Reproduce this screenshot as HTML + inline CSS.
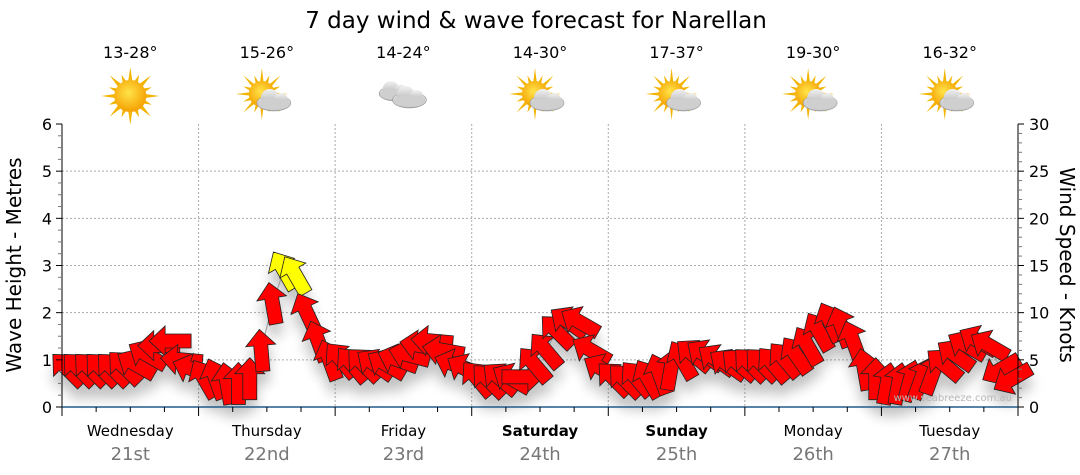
<!DOCTYPE html>
<html><head><meta charset="utf-8"><style>
html,body{margin:0;padding:0;background:#fff;}
svg{display:block;font-family:"DejaVu Sans","Liberation Sans",sans-serif;}
</style></head><body>
<svg id="chart" width="1080" height="475" viewBox="0 0 1080 475" xmlns="http://www.w3.org/2000/svg">
<defs>
<radialGradient id="sunG" cx="45%" cy="40%" r="60%"><stop offset="0" stop-color="#ffe44a"/><stop offset="1" stop-color="#f5a000"/></radialGradient>
<linearGradient id="cloudG" x1="0" y1="0" x2="0" y2="1"><stop offset="0" stop-color="#f2f2f2"/><stop offset="1" stop-color="#a9a9a9"/></linearGradient>
<filter id="shadow" x="-20%" y="-20%" width="140%" height="160%"><feGaussianBlur stdDeviation="6"/></filter>
</defs>
<text x="536" y="28" text-anchor="middle" font-size="23" fill="#000">7 day wind &amp; wave forecast for Narellan</text>
<g id="grid"></g>
<g id="shadowLayer" opacity="0.35" filter="url(#shadow)"></g>
<g id="marks"></g>
<g id="axes"></g>
<g id="days"></g>
<text x="1012" y="401" text-anchor="end" font-size="10" fill="#b8b8b8">www.seabreeze.com.au</text>
<text transform="translate(21,265) rotate(-90)" text-anchor="middle" font-size="20" fill="#000">Wave Height - Metres</text>
<text transform="translate(1060,265) rotate(90)" text-anchor="middle" font-size="20" fill="#000">Wind Speed - Knots</text>
</svg>
<script>
const dayNames=["Wednesday","Thursday","Friday","Saturday","Sunday","Monday","Tuesday"];
const dayDates=["21st","22nd","23rd","24th","25th","26th","27th"];
const dayBold=[false,false,false,true,true,false,false];
const dayTemps=["13-28°","15-26°","14-24°","14-30°","17-37°","19-30°","16-32°"];
const dayIcons=["sun","partly","cloud","partly","partly","partly","partly"];
const waveTicks=[0,1,2,3,4,5,6];
const windTicks=[0,5,10,15,20,25,30];
const windSpeed=[
4,4,4,4,4,4.2,4.5,5.5,6.5,7,5,4,
3,3,2.5,2.5,3,6,11,14.5,14,10,7,5,
5,4.5,4.5,4.5,4.5,5,5.5,6.5,7,6,4.5,4,
3,2.8,3,3,3.2,4.5,6,8,9,9,6,4,
3,2.8,3,3,3.5,4,5,5.5,5.5,5,4.5,4.5,
4.5,4.5,4.5,5,5.5,6.5,8,9,8.5,7,4,3,
2.5,2.5,2.8,3,3.5,4.5,5.5,6.5,7,6.5,4,3];
const windDir=[
315,315,315,315,315,315,300,300,270,270,275,290,
330,340,350,0,0,355,350,330,330,335,340,340,
320,320,315,305,300,290,285,280,275,280,290,300,
320,315,310,300,90,320,320,315,305,300,300,300,
315,315,320,330,340,10,330,310,305,305,305,310,
315,315,320,320,325,330,330,335,340,340,350,0,
10,10,15,20,20,310,305,300,300,300,240,240];

const X0=62,X1=1018,Y0=407,Y1=124,NPTS=84;
const dayW=(X1-X0)/7;
const xAt=i=>X0+(i+0.5)*(X1-X0)/NPTS;
const yWave=v=>Y0-(v/6)*(Y0-Y1);
const yWind=v=>Y0-(v/30)*(Y0-Y1);
const NS="http://www.w3.org/2000/svg";
function mk(tag,attrs,parent){const e=document.createElementNS(NS,tag);for(const k in attrs)e.setAttribute(k,attrs[k]);parent.appendChild(e);return e;}
const grid=document.getElementById('grid'),axes=document.getElementById('axes'),days=document.getElementById('days'),marks=document.getElementById('marks'),sh=document.getElementById('shadowLayer');

waveTicks.forEach(v=>{ if(v>0&&v<6){const l=mk('line',{x1:X0,x2:X1,y1:yWave(v),y2:yWave(v),stroke:'#aaa','stroke-dasharray':'2,2'},grid);

}});
for(let d=1;d<7;d++){const x=X0+d*dayW;const l=mk('line',{x1:x,x2:x,y1:Y1,y2:Y0,stroke:'#aaa','stroke-dasharray':'2,2'},grid);

}

const la=mk('line',{x1:X0,x2:X0,y1:Y1,y2:Y0,stroke:'#000'},axes);


const ra=mk('line',{x1:X1,x2:X1,y1:Y1,y2:Y0,stroke:'#000'},axes);


const ba=mk('line',{x1:X0,x2:X1,y1:Y0,y2:Y0,stroke:'#1f5a8a','stroke-width':1.5},axes);


for(let m=0;m<=24;m++){const y=yWave(m/4);mk('line',{x1:X0-(m%4===0?6:4),x2:X0,y1:y,y2:y,stroke:m%4===0?'#000':'#777'},axes);}
for(let k=0;k<=30;k++){const y=yWind(k);mk('line',{x1:X1,x2:X1+(k%5===0?6:4),y1:y,y2:y,stroke:k%5===0?'#000':'#777'},axes);}
waveTicks.forEach(v=>{const t=mk('text',{x:X0-10,y:yWave(v)+6,'text-anchor':'end','font-size':16},axes);t.textContent=v;

});
windTicks.forEach(v=>{const t=mk('text',{x:X1+11,y:yWind(v)+6,'text-anchor':'start','font-size':16},axes);t.textContent=v;

});
for(let q=0;q<=28;q++){const x=X0+q*dayW/4;mk('line',{x1:x,x2:x,y1:Y0,y2:Y0+(q%4===0?9:5),stroke:'#000'},axes);}

function sun(g,cx,cy,r){
 for(let k=0;k<16;k++){const a=k*Math.PI/8,L=(k%2?r+7:r+13);
  const p=[[cx+Math.cos(a)*L,cy+Math.sin(a)*L],[cx+Math.cos(a+0.15)*r*0.9,cy+Math.sin(a+0.15)*r*0.9],[cx+Math.cos(a-0.15)*r*0.9,cy+Math.sin(a-0.15)*r*0.9]];
  mk('polygon',{points:p.map(q=>q.join(',')).join(' '),fill:'#f3b400'},g);}
 mk('circle',{cx:cx,cy:cy,r:r,fill:'url(#sunG)'},g);
}
function cloud(g,cx,cy,s){
 mk('ellipse',{cx:cx,cy:cy+4*s,rx:17*s,ry:8*s,fill:'url(#cloudG)',stroke:'#999','stroke-width':0.6},g);
 mk('circle',{cx:cx-4*s,cy:cy-1*s,r:9*s,fill:'url(#cloudG)'},g);
 mk('circle',{cx:cx+7*s,cy:cy+1*s,r:7*s,fill:'url(#cloudG)'},g);
 mk('ellipse',{cx:cx,cy:cy+5*s,rx:16*s,ry:6*s,fill:'#cfcfcf'},g);
}
for(let d=0;d<7;d++){
 const cx=X0+(d+0.5)*dayW;
 const t1=mk('text',{x:cx,y:436,'text-anchor':'middle','font-size':15,'font-weight':dayBold[d]?'bold':'normal'},days);t1.textContent=dayNames[d];
 
 
 const t2=mk('text',{x:cx,y:460,'text-anchor':'middle','font-size':18,fill:'#777'},days);t2.textContent=dayDates[d];
 
 
 const t3=mk('text',{x:cx,y:58,'text-anchor':'middle','font-size':16},days);t3.textContent=dayTemps[d];
 
 
 const g=mk('g',{},days);
 
 
 if(dayIcons[d]==='sun'){sun(g,cx,96,16);}
 else if(dayIcons[d]==='partly'){sun(g,cx-5,94,13);cloud(g,cx+7,99,1);}
 else{cloud(g,cx-9,90,0.9);cloud(g,cx+6,96,1);}
}

const pts=windSpeed.map((v,i)=>xAt(i)+','+yWind(v)).join(' ');
const pl=mk('polyline',{points:pts,fill:'none',stroke:'#999','stroke-width':1},marks);


const arrowPath="M0,-21 L15,-5 L7,-5 L7,21 L-7,21 L-7,-5 L-15,-5 Z";
windSpeed.forEach((v,i)=>{
 const x=xAt(i),y=yWind(v);
 mk('path',{d:arrowPath,transform:`translate(${x},${y+12}) rotate(${windDir[i]})`,fill:'#555'},sh);
});
windSpeed.forEach((v,i)=>{
 const x=xAt(i),y=yWind(v);
 const a=mk('path',{d:arrowPath,transform:`translate(${x},${y}) rotate(${windDir[i]})`,fill:v>=12?'#ffff00':'#ff0000',stroke:'#222','stroke-width':0.8},marks);
 
 
});
</script>
</body></html>
